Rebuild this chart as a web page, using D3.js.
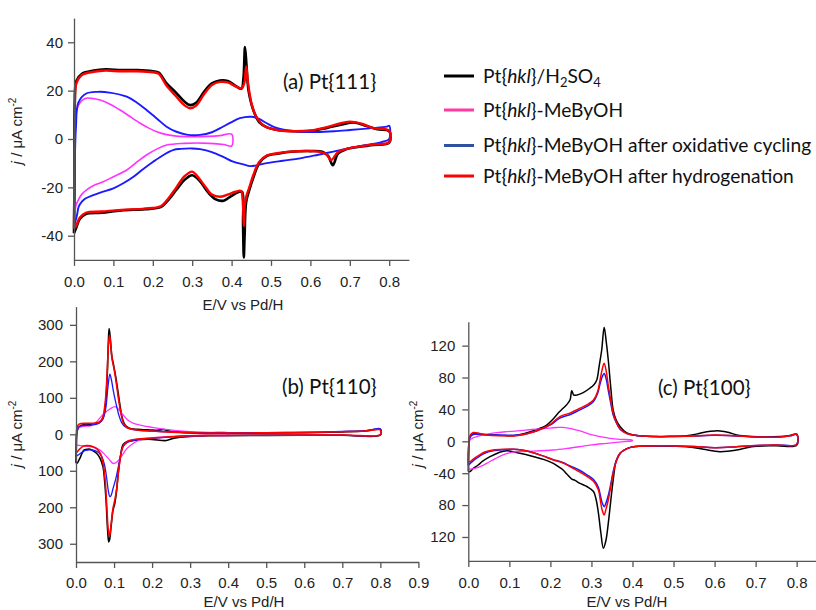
<!DOCTYPE html>
<html><head><meta charset="utf-8">
<script src="https://cdn.jsdelivr.net/npm/d3@7"></script>
<style>
body{margin:0;background:#fff;}
svg{display:block;}
.tk text{font-family:"Liberation Sans",Arial,sans-serif;font-size:15px;fill:#222;}
.tk path,.tk line{stroke:#555;stroke-width:1.3;}
</style></head>
<body><div id="chart"></div>
<script>
// ---------------- DATA ----------------
const seriesNames = ["Pt{hkl}/H2SO4","Pt{hkl}-MeByOH","Pt{hkl}-MeByOH after oxidative cycling","Pt{hkl}-MeByOH after hydrogenation"];
const panelLabels = ["(a) Pt{111}","(b) Pt{110}","(c) Pt{100}"];
const xTicksA = [0,0.1,0.2,0.3,0.4,0.5,0.6,0.7,0.8];
const xTicksB = [0,0.1,0.2,0.3,0.4,0.5,0.6,0.7,0.8,0.9];
const yTicksA = [-40,-20,0,20,40];
const yTickLabelsA = ["-40","-20","0","20","40"];
const yTicksB = [-300,-200,-100,0,100,200,300];
const yTickLabelsB = ["300","200","100","0","100","200","300"];
const yTicksC = [-120,-80,-40,0,40,80,120];
const yTickLabelsC = ["120","80","-40","0","40","80","120"];

// Panel (a) Pt{111}: anodic (up) and cathodic (down) branches, [E, j]
const a_h2so4_up = [[0,-39],[0.001,-20],[0.002,15],[0.006,24],[0.02,27],[0.05,28.3],[0.08,28.8],[0.12,28.5],[0.16,28.5],[0.2,28],[0.215,27.5],[0.235,23],[0.26,19],[0.28,15.5],[0.295,14],[0.31,15],[0.33,19.5],[0.35,23],[0.37,24.2],[0.39,24],[0.41,22],[0.425,20.8],[0.43,25],[0.434,38],[0.438,30],[0.443,20],[0.455,12],[0.47,7],[0.49,4.8],[0.52,3.6],[0.56,3.2],[0.6,3.3],[0.64,4.5],[0.68,6],[0.71,6.8],[0.74,5.5],[0.77,4],[0.8,3.2]];
const a_h2so4_down = [[0.8,-1.5],[0.76,-2.5],[0.72,-3.3],[0.69,-4.3],[0.67,-6],[0.657,-10.8],[0.645,-7],[0.63,-5.3],[0.6,-5],[0.55,-5.3],[0.52,-6],[0.49,-7],[0.47,-10],[0.455,-16],[0.445,-21],[0.437,-26],[0.433,-40],[0.431,-49],[0.429,-35],[0.427,-22],[0.42,-21.8],[0.4,-23.5],[0.38,-25.5],[0.36,-25],[0.34,-22],[0.32,-17.5],[0.3,-15],[0.28,-17],[0.26,-21],[0.235,-26],[0.22,-28.2],[0.18,-29],[0.12,-29.5],[0.07,-30.5],[0.03,-31],[0.015,-33],[0.005,-37],[0,-39]];
const a_mebyoh_up = [[0,-30],[0.002,0],[0.004,8],[0.007,12],[0.015,15],[0.028,16.8],[0.045,16.8],[0.066,16.1],[0.09,14.5],[0.117,12],[0.14,9.5],[0.168,6.5],[0.19,4.5],[0.21,3],[0.235,1.8],[0.26,1.2],[0.3,1],[0.34,1.1],[0.37,1.4],[0.4,2]];
const a_mebyoh_down = [[0.4,-2.9],[0.38,-2.3],[0.345,-1.8],[0.28,-1.8],[0.235,-2.5],[0.21,-4.2],[0.184,-6.6],[0.16,-9.5],[0.134,-12.8],[0.1,-15.6],[0.074,-17.7],[0.05,-19.2],[0.032,-21],[0.02,-22.8],[0.011,-25.2],[0.005,-27.5],[0.002,-30],[0,-30]];
const a_oxid_up = [[0,-37],[0.002,-10],[0.005,5],[0.011,15],[0.03,18.7],[0.06,19.5],[0.09,19.2],[0.134,17.5],[0.16,15],[0.184,12],[0.21,8.5],[0.235,5.1],[0.26,3],[0.286,1.8],[0.32,1.7],[0.35,2.8],[0.37,4.4],[0.4,7],[0.421,8.6],[0.45,9.2],[0.47,8.3],[0.489,6.5],[0.51,4.8],[0.539,3.6],[0.58,3],[0.616,2.9],[0.66,3.2],[0.7,3.7],[0.75,4.4],[0.794,5.1],[0.8,5.5]];
const a_oxid_down = [[0.8,0],[0.78,-1.3],[0.743,-2.5],[0.7,-3.8],[0.658,-5.2],[0.62,-6.5],[0.574,-8],[0.53,-9],[0.489,-10],[0.46,-11],[0.447,-11.2],[0.43,-10.5],[0.404,-9.4],[0.38,-7.5],[0.35,-5.4],[0.32,-4.2],[0.3,-3.9],[0.27,-4.1],[0.253,-4.5],[0.23,-6.3],[0.201,-9.4],[0.175,-12.5],[0.151,-15.6],[0.125,-18.3],[0.1,-20.4],[0.07,-22],[0.049,-23.2],[0.03,-24.5],[0.02,-25.9],[0.012,-28],[0.007,-32],[0.002,-35],[0,-37]];
const a_hydro_up = [[0,-37],[0.001,-15],[0.002,10],[0.006,23],[0.02,26.5],[0.05,27.8],[0.08,28.3],[0.12,28],[0.16,28],[0.2,27.6],[0.215,27],[0.235,22],[0.26,17.5],[0.28,14],[0.295,12.7],[0.31,13.8],[0.33,18.5],[0.35,22.3],[0.37,23.6],[0.39,23.4],[0.41,21.8],[0.425,21],[0.432,23],[0.437,30],[0.441,24],[0.45,15],[0.46,10],[0.475,6.5],[0.49,4.8],[0.52,3.6],[0.56,3.2],[0.6,3.5],[0.64,4.8],[0.67,6.2],[0.7,7.2],[0.73,6.3],[0.76,4.5],[0.8,3.4]];
const a_hydro_down = [[0.8,-1.3],[0.76,-2.3],[0.72,-3.2],[0.69,-4.2],[0.67,-5.5],[0.652,-8.7],[0.64,-6.2],[0.62,-5.2],[0.6,-5],[0.55,-5.2],[0.52,-5.8],[0.49,-6.8],[0.47,-9.5],[0.455,-15],[0.445,-20],[0.437,-24],[0.433,-28],[0.431,-36],[0.428,-25],[0.424,-21.5],[0.41,-21.8],[0.39,-23],[0.37,-23.9],[0.35,-23],[0.33,-19],[0.31,-14.8],[0.3,-13.5],[0.28,-15.5],[0.26,-20],[0.235,-25.5],[0.22,-27.8],[0.18,-28.8],[0.12,-29.3],[0.07,-30],[0.03,-30.5],[0.015,-32.5],[0.005,-36],[0,-37]];

// Panel (b) Pt{110}
const b_h2so4_up = [[0,-79],[0.001,-30],[0.003,10],[0.01,22],[0.02,26],[0.04,28],[0.055,30],[0.065,36],[0.072,48],[0.078,85],[0.082,160],[0.085,250],[0.087,290],[0.09,265],[0.094,215],[0.098,194],[0.104,160],[0.111,112],[0.117,70],[0.123,39],[0.13,24],[0.142,16],[0.17,13],[0.195,11.8],[0.215,11],[0.23,13],[0.245,9],[0.28,5],[0.326,3],[0.4,3],[0.5,3.5],[0.6,4.5],[0.7,6.5],[0.76,9],[0.8,13.5]];
const b_h2so4_down = [[0.8,-2],[0.7,-2.5],[0.5,-3],[0.35,-4],[0.3,-6],[0.26,-10],[0.238,-17],[0.225,-17],[0.2,-14],[0.177,-14],[0.155,-16],[0.135,-20],[0.124,-28],[0.117,-60],[0.111,-107],[0.106,-160],[0.102,-189],[0.097,-210],[0.092,-255],[0.088,-290],[0.086,-295],[0.083,-260],[0.079,-180],[0.075,-125],[0.071,-89],[0.063,-65],[0.054,-52],[0.045,-45],[0.037,-41],[0.025,-42],[0.02,-44],[0.01,-66],[0.003,-79],[0,-79]];
const b_mebyoh_up = [[0,-30],[0.002,5],[0.006,18],[0.02,22],[0.04,24],[0.055,35],[0.063,45],[0.075,58],[0.09,70],[0.103,76],[0.115,65],[0.124,53],[0.135,40],[0.151,30],[0.175,24],[0.195,20],[0.23,14],[0.29,8],[0.35,5],[0.4,4]];
const b_mebyoh_down = [[0.4,-2],[0.35,-3],[0.3,-4],[0.25,-6],[0.2,-10],[0.168,-15],[0.15,-25],[0.133,-40],[0.12,-60],[0.108,-75],[0.098,-80],[0.088,-70],[0.075,-55],[0.063,-43],[0.045,-35],[0.02,-32],[0.005,-30],[0,-30]];
const b_oxid_up = [[0,-60],[0.002,0],[0.005,18],[0.015,24],[0.04,25],[0.06,30],[0.07,40],[0.078,70],[0.084,130],[0.089,165],[0.093,150],[0.098,120],[0.105,85],[0.112,55],[0.12,32],[0.13,20],[0.15,13],[0.2,9],[0.3,5],[0.4,4],[0.5,4.5],[0.6,5.5],[0.7,8],[0.77,11],[0.8,15]];
const b_oxid_down = [[0.8,-1],[0.7,-2],[0.5,-2.5],[0.35,-3],[0.3,-4],[0.25,-7],[0.2,-11],[0.16,-15],[0.135,-22],[0.123,-35],[0.115,-70],[0.105,-120],[0.097,-150],[0.092,-168],[0.089,-171],[0.085,-155],[0.08,-115],[0.074,-80],[0.066,-58],[0.055,-47],[0.04,-43],[0.025,-44],[0.015,-50],[0.005,-57],[0,-60]];
const b_hydro_up = [[0,-50],[0.001,-10],[0.003,20],[0.008,28],[0.03,30],[0.05,31],[0.062,34],[0.07,45],[0.077,90],[0.082,170],[0.085,240],[0.088,272],[0.091,250],[0.095,205],[0.1,180],[0.106,140],[0.112,95],[0.118,58],[0.125,30],[0.135,18],[0.16,12],[0.2,9],[0.25,6],[0.3,4],[0.4,3.5],[0.5,4],[0.6,5],[0.7,7],[0.76,9],[0.8,12]];
const b_hydro_down = [[0.8,-1],[0.7,-2],[0.5,-2.5],[0.35,-3],[0.3,-4],[0.25,-7],[0.2,-10],[0.16,-13],[0.14,-17],[0.128,-25],[0.12,-45],[0.113,-90],[0.107,-150],[0.102,-180],[0.097,-205],[0.092,-250],[0.088,-280],[0.085,-265],[0.081,-200],[0.077,-130],[0.072,-85],[0.065,-55],[0.055,-40],[0.045,-34],[0.03,-31],[0.02,-32],[0.01,-40],[0.003,-48],[0,-50]];

// Panel (c) Pt{100}
const c_h2so4_up = [[0,-38],[0.001,-10],[0.004,5.8],[0.01,9],[0.02,10],[0.04,8.5],[0.061,7.9],[0.09,7.2],[0.11,7],[0.135,9.5],[0.158,13.3],[0.18,17.5],[0.191,20.4],[0.205,27],[0.215,33],[0.222,37],[0.231,41.4],[0.24,46],[0.248,52],[0.252,63.5],[0.257,58],[0.265,58],[0.28,61],[0.296,66.5],[0.306,71],[0.313,77],[0.319,95],[0.325,114.5],[0.331,143],[0.336,125],[0.341,102],[0.347,68],[0.353,39],[0.36,27],[0.37,18.3],[0.385,11],[0.402,7.9],[0.45,6],[0.5,6.3],[0.532,7],[0.555,9],[0.581,12],[0.6,13],[0.613,13],[0.635,11],[0.654,7.9],[0.69,6],[0.76,6],[0.785,7.5],[0.8,9]];
const c_h2so4_down = [[0.8,-5],[0.75,-5.5],[0.69,-6.7],[0.654,-10.9],[0.613,-13],[0.573,-10],[0.532,-6.7],[0.45,-5.8],[0.402,-6.7],[0.385,-9.5],[0.37,-15],[0.36,-25],[0.353,-48.5],[0.347,-75],[0.341,-103],[0.335,-125],[0.329,-134],[0.323,-115],[0.317,-90],[0.311,-72],[0.305,-63],[0.29,-57],[0.272,-52.7],[0.26,-49],[0.252,-47.3],[0.24,-41],[0.231,-36],[0.22,-32],[0.207,-27.6],[0.185,-23],[0.16,-19.3],[0.14,-16.5],[0.12,-14.3],[0.093,-11.8],[0.075,-14],[0.053,-19.3],[0.035,-25],[0.024,-29.7],[0.012,-34],[0.004,-38],[0,-38]];
const c_mebyoh_up = [[0,-35],[0.002,-10],[0.004,1.6],[0.01,4],[0.02,6],[0.04,8.5],[0.069,10.8],[0.09,12],[0.12,13],[0.155,14.8],[0.19,16.3],[0.215,17.3],[0.231,17.5],[0.25,16],[0.272,13],[0.295,9],[0.321,5.8],[0.345,3.8],[0.37,2.5],[0.399,1.5]];
const c_mebyoh_down = [[0.4,0.5],[0.38,-0.3],[0.337,-2.5],[0.3,-4.5],[0.272,-6.7],[0.24,-9],[0.207,-10.9],[0.16,-12.3],[0.12,-13],[0.1,-14.5],[0.085,-17],[0.065,-22],[0.045,-27.6],[0.03,-31.5],[0.016,-34],[0.004,-35],[0,-35]];
const c_oxid_up = [[0,-30],[0.001,-5],[0.004,5],[0.012,8.5],[0.03,8.5],[0.06,8],[0.1,7.5],[0.135,8.5],[0.16,12],[0.18,16],[0.2,20.5],[0.223,29],[0.25,34],[0.272,39.5],[0.29,44],[0.305,50],[0.315,60],[0.321,72],[0.327,82],[0.331,85],[0.336,78],[0.341,64],[0.347,48],[0.353,33],[0.36,24],[0.37,15],[0.385,10],[0.402,7.9],[0.45,6],[0.5,6],[0.55,6.5],[0.6,7.5],[0.65,6.8],[0.7,5.5],[0.76,5.5],[0.785,7],[0.8,8.5]];
const c_oxid_down = [[0.8,-4],[0.75,-4.5],[0.69,-5.5],[0.65,-7],[0.6,-8],[0.55,-6.5],[0.5,-5.8],[0.45,-5.8],[0.402,-6.7],[0.385,-9.5],[0.37,-15],[0.36,-25],[0.353,-38],[0.347,-54],[0.341,-68],[0.335,-78],[0.331,-82],[0.326,-77],[0.321,-66],[0.317,-58],[0.305,-48],[0.289,-42],[0.27,-36],[0.248,-31],[0.23,-26.5],[0.207,-23],[0.18,-18],[0.15,-13],[0.13,-11],[0.11,-10],[0.085,-10.5],[0.06,-12],[0.04,-15],[0.028,-18.5],[0.015,-23],[0.004,-28],[0,-30]];
const c_hydro_up = [[0,-25.6],[0.001,-5],[0.004,7],[0.012,11],[0.025,10],[0.045,8],[0.08,7],[0.11,6.7],[0.135,8.5],[0.16,12],[0.18,16],[0.2,21.3],[0.223,30.9],[0.25,36],[0.272,41.4],[0.29,46],[0.305,51.8],[0.315,62],[0.321,77],[0.327,92],[0.331,97.8],[0.336,88],[0.341,70],[0.347,52],[0.353,35],[0.36,25],[0.37,15],[0.385,10],[0.402,7.9],[0.45,6],[0.5,6],[0.55,6.5],[0.6,8],[0.65,7],[0.7,5.5],[0.76,5.5],[0.785,7],[0.8,9]];
const c_hydro_down = [[0.8,-4],[0.75,-4.5],[0.69,-5.5],[0.65,-7],[0.6,-8],[0.55,-6.5],[0.5,-5.8],[0.45,-5.8],[0.402,-6.7],[0.385,-9.5],[0.37,-15],[0.36,-26],[0.353,-40],[0.347,-57],[0.341,-73.6],[0.335,-86],[0.331,-92.4],[0.326,-86],[0.321,-72],[0.317,-61],[0.305,-50],[0.289,-44],[0.27,-38],[0.248,-31.8],[0.23,-27],[0.207,-23.5],[0.18,-18],[0.15,-13],[0.13,-11],[0.11,-10],[0.085,-10],[0.06,-11],[0.04,-13.5],[0.028,-17],[0.015,-21],[0.004,-25.6],[0,-25.6]];

// ---------------- DRAWING ----------------
const W = 816, H = 610;
const svg = d3.select("#chart").append("svg").attr("width", W).attr("height", H);
svg.append("rect").attr("width", W).attr("height", H).attr("fill", "#fff");

const lineColors = ["#000000", "#ff33ff", "#1a1aff", "#ff0000"];
const legendColors = ["#000000", "#ff3aa0", "#2f52a0", "#ff0000"];
const drawOrder = [0, 1, 2, 3];

function range(a, b, s) { const r = []; for (let v = a; v <= b + 1e-9; v += s) r.push(+v.toFixed(4)); return r; }

function drawPanel(cfg) {
  const x = d3.scaleLinear().domain(cfg.xDomain).range(cfg.xRange);
  const y = d3.scaleLinear().domain(cfg.yDomain).range(cfg.yRange);
  const g = svg.append("g");

  const line = d3.line().x(d => x(d[0])).y(d => y(d[1])).curve(d3.curveCatmullRom.alpha(0.5));
  drawOrder.forEach(i => {
    const c = cfg.curves[i];
    const pts = c[0].concat(c[1]);
    g.append("path").attr("d", line(pts)).attr("fill", "none")
      .attr("stroke", lineColors[i]).attr("stroke-width", cfg.widths[i])
      .attr("stroke-linejoin", "round");
  });

  const yAx = cfg.yRange[0];
  const xa = g.append("g").attr("class", "tk").attr("transform", `translate(0,${yAx})`);
  xa.call(d3.axisBottom(x).tickValues(cfg.xMinor).tickSize(3).tickSizeOuter(0).tickFormat(""));
  xa.call(d3.axisBottom(x).tickValues(cfg.xTicks).tickSize(6).tickSizeOuter(0).tickPadding(cfg.xPad).tickFormat(d3.format(".1f")));
  const xAx = cfg.xRange[0];
  const ya = g.append("g").attr("class", "tk").attr("transform", `translate(${xAx},0)`);
  ya.call(d3.axisLeft(y).tickValues(cfg.yMinor).tickSize(3).tickSizeOuter(0).tickFormat(""));
  ya.call(d3.axisLeft(y).tickValues(cfg.yTicks).tickSize(6).tickSizeOuter(0).tickPadding(cfg.yPad)
    .tickFormat((d, i) => cfg.yTickLabels[i]));

  g.append("text").attr("x", cfg.xTitle[0]).attr("y", cfg.xTitle[1])
    .attr("text-anchor", "middle").attr("font-family", "Liberation Sans, Arial, sans-serif")
    .attr("font-size", 15).attr("fill", "#222").text("E/V vs Pd/H");
  const yt = g.append("text").attr("transform", `translate(${cfg.yTitle[0]},${cfg.yTitle[1]}) rotate(-90)`)
    .attr("text-anchor", "middle").attr("font-family", "Liberation Sans, Arial, sans-serif")
    .attr("font-size", 15).attr("fill", "#222");
  yt.append("tspan").attr("font-style", "italic").text("j");
  yt.append("tspan").text(" / μA cm");
  yt.append("tspan").attr("font-size", 10).attr("dy", -6).text("-2");

  g.append("text").attr("x", cfg.labelPos[0]).attr("y", cfg.labelPos[1])
    .attr("font-family", "Lato, 'Open Sans', sans-serif").attr("font-size", 20.5).attr("fill", "#111")
    .text(cfg.label);
}

drawPanel({
  xDomain: [0, 0.85], xRange: [74, 408.9],
  yDomain: [-50, 50], yRange: [259.9, 18.1],
  xTicks: xTicksA, xMinor: range(0.05, 0.85, 0.1),
  yTicks: yTicksA, yTickLabels: yTickLabelsA, yMinor: range(-50, 50, 20),
  xPad: 10, yPad: 5,
  xTitle: [243, 310], yTitle: [22, 131],
  label: panelLabels[0], labelPos: [283, 89],
  widths: [2.6, 1.6, 1.9, 2.4],
  curves: [[a_h2so4_up, a_h2so4_down], [a_mebyoh_up, a_mebyoh_down], [a_oxid_up, a_oxid_down], [a_hydro_up, a_hydro_down]]
});
drawPanel({
  xDomain: [0, 0.9], xRange: [76, 418.4],
  yDomain: [-350, 350], yRange: [562, 306.6],
  xTicks: xTicksB, xMinor: range(0.05, 0.85, 0.1),
  yTicks: yTicksB, yTickLabels: yTickLabelsB, yMinor: range(-350, 350, 100),
  xPad: 9, yPad: 7,
  xTitle: [244, 606.5], yTitle: [22, 434],
  label: panelLabels[1], labelPos: [282, 394],
  widths: [1.6, 1.3, 1.3, 1.6],
  curves: [[b_h2so4_up, b_h2so4_down], [b_mebyoh_up, b_mebyoh_down], [b_oxid_up, b_oxid_down], [b_hydro_up, b_hydro_down]]
});
drawPanel({
  xDomain: [0, 0.85], xRange: [468.3, 817.2],
  yDomain: [-150, 150], yRange: [560.9, 321.7],
  xTicks: xTicksA, xMinor: range(0.05, 0.85, 0.1),
  yTicks: yTicksC, yTickLabels: yTickLabelsC, yMinor: range(-140, 140, 40),
  xPad: 10, yPad: 7,
  xTitle: [627, 606.5], yTitle: [423, 434],
  label: panelLabels[2], labelPos: [658, 395],
  widths: [1.5, 1.3, 1.5, 1.5],
  curves: [[c_h2so4_up, c_h2so4_down], [c_mebyoh_up, c_mebyoh_down], [c_oxid_up, c_oxid_down], [c_hydro_up, c_hydro_down]]
});

// ---------------- LEGEND ----------------
const legY = [76, 110, 145.5, 176];
const leg = svg.append("g");
seriesNames.forEach((name, i) => {
  leg.append("line").attr("x1", 444).attr("x2", 474).attr("y1", legY[i]).attr("y2", legY[i])
    .attr("stroke", legendColors[i]).attr("stroke-width", 3);
  const t = leg.append("text").attr("x", 483).attr("y", legY[i] + 6.5)
    .attr("font-family", "Lato, 'Open Sans', sans-serif").attr("font-size", 19.2).attr("fill", "#111");
  const rest = name.replace("Pt{hkl}", "");
  t.append("tspan").text("Pt{");
  t.append("tspan").attr("font-style", "italic").text("hkl");
  t.append("tspan").text("}");
  if (rest === "/H2SO4") {
    t.append("tspan").text("/H");
    t.append("tspan").attr("font-size", 13).attr("dy", 4).text("2");
    t.append("tspan").attr("dy", -4).text("SO");
    t.append("tspan").attr("font-size", 13).attr("dy", 4).text("4");
  } else {
    t.append("tspan").text(rest);
  }
});
</script>
</body></html>
